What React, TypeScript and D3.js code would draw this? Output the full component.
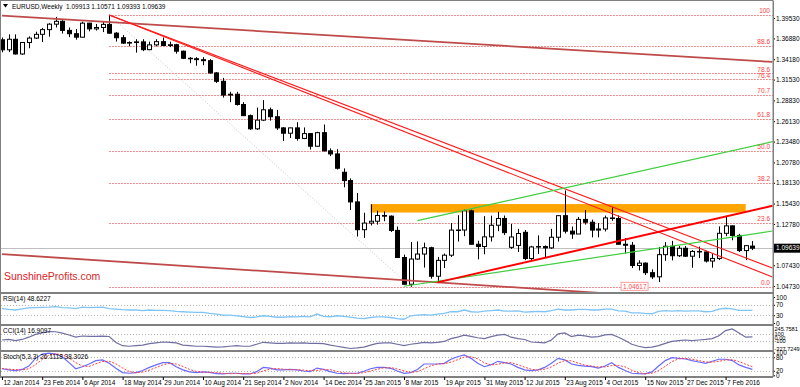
import React, {useRef, useEffect} from "react";
import * as d3 from "d3";

// weekly EURUSD bars, 12 Jan 2014 .. 6 Mar 2016
const opens = [1.3670, 1.3540, 1.3677, 1.3486, 1.3635, 1.3692, 1.3741, 1.3802, 1.3873, 1.3910,
	1.3792, 1.3749, 1.3704, 1.3886, 1.3812, 1.3830, 1.3870, 1.3756, 1.3697, 1.3627,
	1.3634, 1.3643, 1.3542, 1.3604, 1.3646, 1.3596, 1.3606, 1.3522, 1.3430, 1.3424,
	1.3412, 1.3399, 1.3240, 1.3131, 1.2952, 1.2963, 1.2830, 1.2685, 1.2514, 1.2627,
	1.2761, 1.2671, 1.2526, 1.2457, 1.2526, 1.2389, 1.2452, 1.2288, 1.2464, 1.2228,
	1.2188, 1.1950, 1.1842, 1.1565, 1.1204, 1.1290, 1.1314, 1.1389, 1.1380, 1.1195,
	1.0843, 1.0496, 1.0823, 1.0888, 1.0970, 1.0600, 1.0806, 1.0873, 1.1199, 1.1200,
	1.1449, 1.1015, 1.0986, 1.1111, 1.1262, 1.1350, 1.0975, 1.1000, 1.1170, 1.0830,
	1.0980, 1.0985, 1.0968, 1.1106, 1.1386, 1.1185, 1.1148, 1.1338, 1.1301, 1.1199,
	1.1213, 1.1357, 1.1349, 1.1015, 1.1002, 1.0739, 1.0770, 1.0646, 1.0592, 1.0880,
	1.0989, 1.0866, 1.0963, 1.0860, 1.0922, 1.0915, 1.0797, 1.0831, 1.1157, 1.1254,
	1.1130, 1.0933, 1.09913];
const highs = [1.3700, 1.3740, 1.3740, 1.3640, 1.3715, 1.3775, 1.3825, 1.3885, 1.3967, 1.3925,
	1.3830, 1.3810, 1.3905, 1.3890, 1.3875, 1.3905, 1.3993, 1.3770, 1.3733, 1.3650,
	1.3677, 1.3677, 1.3647, 1.3677, 1.3700, 1.3646, 1.3618, 1.3530, 1.3445, 1.3445,
	1.3445, 1.3418, 1.3250, 1.3175, 1.2995, 1.2995, 1.2860, 1.2700, 1.2790, 1.2887,
	1.2790, 1.2760, 1.2535, 1.2530, 1.2600, 1.2532, 1.2455, 1.2475, 1.2570, 1.2260,
	1.2250, 1.2000, 1.1870, 1.1680, 1.1424, 1.1534, 1.1450, 1.1442, 1.1390, 1.1245,
	1.0880, 1.1043, 1.1052, 1.1036, 1.0983, 1.0850, 1.0895, 1.1290, 1.1392, 1.1467,
	1.1465, 1.1060, 1.1380, 1.1386, 1.1436, 1.1388, 1.1278, 1.1215, 1.1200, 1.0995,
	1.1130, 1.1000, 1.1215, 1.1392, 1.1714, 1.1245, 1.1370, 1.1460, 1.1335, 1.1290,
	1.1387, 1.1495, 1.1390, 1.1095, 1.1045, 1.0807, 1.0780, 1.0690, 1.0981, 1.1043,
	1.1059, 1.0994, 1.0993, 1.0940, 1.0984, 1.0930, 1.0898, 1.1247, 1.1376, 1.1260,
	1.1150, 1.1000, 1.10571];
const lows = [1.3508, 1.3510, 1.3478, 1.3475, 1.3560, 1.3680, 1.3640, 1.3710, 1.3830, 1.3750,
	1.3705, 1.3672, 1.3700, 1.3780, 1.3790, 1.3770, 1.3750, 1.3647, 1.3615, 1.3585,
	1.3503, 1.3523, 1.3535, 1.3585, 1.3595, 1.3575, 1.3490, 1.3420, 1.3366, 1.3333,
	1.3340, 1.3230, 1.3110, 1.2920, 1.2860, 1.2815, 1.2680, 1.2500, 1.2500, 1.2615,
	1.2620, 1.2500, 1.2357, 1.2395, 1.2360, 1.2380, 1.2245, 1.2280, 1.2220, 1.2160,
	1.1985, 1.1755, 1.1460, 1.1115, 1.1098, 1.1260, 1.1270, 1.1315, 1.1175, 1.0840,
	1.0493, 1.0462, 1.0814, 1.0712, 1.0568, 1.0520, 1.0705, 1.0850, 1.1050, 1.1120,
	1.1013, 1.0819, 1.0885, 1.1050, 1.1185, 1.1135, 1.0955, 1.0915, 1.0809, 1.0810,
	1.0890, 1.0845, 1.0955, 1.1050, 1.1155, 1.1085, 1.1150, 1.1270, 1.1105, 1.1105,
	1.1182, 1.1320, 1.1012, 1.0895, 1.0706, 1.0675, 1.0615, 1.0565, 1.0524, 1.0800,
	1.0805, 1.0850, 1.0850, 1.0710, 1.0835, 1.0778, 1.0711, 1.0810, 1.1120, 1.1067,
	1.0915, 1.0810, 1.09393];
const closes = [1.3540, 1.3677, 1.3486, 1.3635, 1.3692, 1.3741, 1.3802, 1.3873, 1.3910, 1.3792,
	1.3749, 1.3704, 1.3886, 1.3812, 1.3830, 1.3870, 1.3756, 1.3697, 1.3627, 1.3634,
	1.3643, 1.3542, 1.3604, 1.3646, 1.3596, 1.3606, 1.3522, 1.3430, 1.3424, 1.3412,
	1.3399, 1.3240, 1.3131, 1.2952, 1.2963, 1.2830, 1.2685, 1.2514, 1.2627, 1.2761,
	1.2671, 1.2526, 1.2457, 1.2526, 1.2389, 1.2452, 1.2288, 1.2464, 1.2228, 1.2188,
	1.2002, 1.1842, 1.1565, 1.1204, 1.1290, 1.1314, 1.1389, 1.1380, 1.1195, 1.0843,
	1.0496, 1.0823, 1.0888, 1.0970, 1.0600, 1.0806, 1.0873, 1.1199, 1.1200, 1.1449,
	1.1015, 1.0986, 1.1111, 1.1262, 1.1350, 1.1166, 1.1109, 1.1155, 1.0830, 1.0980,
	1.0985, 1.0968, 1.1106, 1.1386, 1.1185, 1.1148, 1.1338, 1.1301, 1.1199, 1.1213,
	1.1357, 1.1349, 1.1015, 1.1002, 1.0739, 1.0770, 1.0646, 1.0592, 1.0880, 1.0989,
	1.0866, 1.0963, 1.0860, 1.0922, 1.0915, 1.0797, 1.0831, 1.1157, 1.1254, 1.1130,
	1.0933, 1.0997, 1.09639];

const rsiValues = [55.6, 52.2, 50, 54.4, 57.8, 58.9, 60, 61.1, 63.3, 58.9,
	57.8, 55.6, 61.1, 58.9, 60, 61.1, 55.6, 53.3, 51.1, 50,
	50, 47.8, 50, 48.9, 48.9, 47.8, 44.4, 43.3, 42.2, 41.1,
	41.1, 36.7, 34.4, 30, 30, 27.8, 24.4, 21.1, 23.3, 27.8,
	25.6, 22.2, 22.2, 24.4, 23.3, 25.6, 23.3, 34.4, 25.6, 23.3,
	27.8, 25.6, 22.2, 18.9, 16.7, 21.1, 23.3, 23.3, 21.1, 16.7,
	14.4, 27.8, 30, 32.2, 30, 34.4, 36.7, 43.3, 43.3, 50,
	43.3, 42.2, 45.6, 47.8, 50, 45.6, 45.6, 46.7, 42.2, 43.3,
	44.4, 43.3, 47.8, 53.3, 50, 50, 52.2, 52.2, 50, 50,
	53.3, 53.3, 46.7, 45.6, 38.9, 38.9, 36.7, 35.6, 44.4, 47.8,
	45.6, 47.8, 45.6, 46.7, 46.7, 43.3, 44.4, 53.3, 56.7, 54.4,
	48.9, 48.9, 48.62];
const cciValues = [-78, -62, -95, -62, 5, 88, 130, 171, 165, 125,
	70, 10, 40, 30, 30, 35, 25, -150, -245, -261,
	-245, -228, -186, -161, -137, -145, -161, -228, -245, -261,
	-261, -270, -286, -278, -261, -245, -261, -261, -203, -145,
	-161, -178, -178, -161, -170, -161, -178, -178, -186, -228,
	-261, -294, -327.72, -311, -286, -228, -178, -161, -161, -203,
	-245, -203, -178, -145, -161, -145, -120, -37, 5, 63,
	30, -12, -37, 21, 63, 88, 5, -37, -62, -137,
	-145, -161, -78, 105, 130, 21, 63, 46, 5, 21,
	71, 88, 5, -95, -203, -261, -300, -286, -245, -178,
	-120, -95, -78, -95, -78, -62, -37, 46, 200, 245.76,
	130, 5, 16.91];
const stochMain = [29, 24, 21, 26, 41, 75, 94, 98, 94, 82,
	56, 29, 38, 50, 65, 68, 53, 31, 12, 9,
	12, 21, 35, 46, 56, 56, 38, 24, 15, 12,
	15, 13, 7, 6, 9, 9, 6, 6, 16, 35,
	32, 24, 24, 26, 24, 19, 16, 32, 26, 16,
	9, 7, 9, 9, 18, 29, 35, 35, 31, 19,
	9, 12, 26, 50, 50, 50, 53, 71, 82, 90,
	75, 53, 38, 47, 62, 56, 50, 35, 24, 21,
	24, 35, 53, 75, 68, 50, 44, 41, 38, 32,
	41, 56, 35, 21, 9, 7, 6, 15, 41, 65,
	78, 75, 72, 65, 59, 53, 62, 71, 71, 65,
	46, 35, 26.11];
const stochSignal = [30, 27, 25, 24, 29, 47, 70, 89, 95, 91,
	77, 56, 41, 39, 51, 61, 62, 51, 32, 17,
	11, 14, 23, 34, 46, 53, 50, 39, 26, 17,
	14, 13, 12, 9, 7, 8, 8, 7, 9, 19,
	28, 30, 27, 25, 25, 23, 20, 22, 25, 25,
	17, 11, 8, 8, 12, 19, 27, 33, 34, 28,
	20, 13, 16, 29, 42, 50, 51, 58, 69, 81,
	82, 73, 55, 46, 49, 55, 56, 47, 36, 27,
	23, 27, 37, 54, 65, 64, 54, 45, 41, 37,
	37, 43, 44, 37, 22, 12, 7, 9, 21, 40,
	61, 73, 75, 71, 65, 59, 58, 62, 68, 69,
	61, 49, 38.30];

const dateLabels = ["12 Jan 2014", "23 Feb 2014", "6 Apr 2014", "18 May 2014", "29 Jun 2014",
	"10 Aug 2014", "21 Sep 2014", "2 Nov 2014", "14 Dec 2014", "25 Jan 2015", "8 Mar 2015",
	"19 Apr 2015", "31 May 2015", "12 Jul 2015", "23 Aug 2015", "4 Oct 2015", "15 Nov 2015",
	"27 Dec 2015", "7 Feb 2016"];
const priceTicks = [1.3953, 1.3688, 1.3418, 1.3153, 1.2883, 1.2613, 1.2348, 1.2078,
	1.1813, 1.1543, 1.1278, 1.0743, 1.0473];
const rsiTicks = [0, 30, 70, 100];
const cciTicks = [-327.7249, -100, 0, 100, 245.7581];
const cciTickLabels = ["-327.7249", "-100", "0.00", "100", "245.7581"];
const stochTicks = [0, 20, 80, 100];

const fibLevels = [100, 88.6, 78.6, 76.4, 70.7, 61.8, 50.0, 38.2, 23.6, 0.0];
const fibHigh = [16, 1.3993];
const fibLow = [61, 1.0462];
const lowLabel = "1.04617";
const lastPrice = 1.09639;
const zoneBars = [55, 111];
const zonePrices = [1.1537, 1.1427];

// trend lines as [bar, price] pairs
const longTopLine = [[0, 1.3983], [115, 1.3382]];
const longBottomLine = [[0, 1.0888], [95.2, 1.0349]];
const downLineA = [[16, 1.3993], [115, 1.0706]];
const downLineB = [[16, 1.3993], [115, 1.0589]];
const upRedLine = [[65, 1.0520], [115, 1.1514]];
const upGreenLow = [[60, 1.0470], [115, 1.1187]];
const upGreenHigh = [[62, 1.1321], [115, 1.2347]];

const font = "'Liberation Sans', Arial, sans-serif";

export default function App() {

	const ref = useRef(null);

	let layout = {"width": 800, "height": 387, "left": 1, "right": 773,
				  "mainTop": 1, "mainBottom": 293,
				  "rsiTop": 294, "rsiBottom": 325,
				  "cciTop": 326, "cciBottom": 351,
				  "stTop": 352, "stBottom": 377};

	useEffect(() => {

		let svg = d3.select(ref.current);
		svg.selectAll("*").remove();

		let x = d3.scaleLinear().domain([0, 112]).range([2, 752.4]);
		let y = d3.scaleLinear().domain([1.0473, 1.3953]).range([286, 18]);
		let yRsi = d3.scaleLinear().domain([0, 100]).range([323, 297]);
		let yCci = d3.scaleLinear().domain([-327.7249, 245.7581]).range([348.5, 329]);
		let ySt = d3.scaleLinear().domain([0, 100]).range([375.3, 352.7]);

		svg.append("rect").attr("width", layout.width).attr("height", layout.height).attr("fill", "#fff");

		let defs = svg.append("defs");
		defs.append("clipPath").attr("id", "mainClip")
			.append("rect")
			.attr("x", layout.left).attr("y", layout.mainTop)
			.attr("width", layout.right - layout.left)
			.attr("height", layout.mainBottom - layout.mainTop);

		let main = svg.append("g").attr("clip-path", "url(#mainClip)");

		// fibonacci retracement
		let fibPrice = (lv) => fibLow[1] + (fibHigh[1] - fibLow[1]) * lv / 100;

		main.selectAll(".fib")
			.data(fibLevels)
			.join("line")
			.attr("class", "fib")
			.attr("x1", x(fibHigh[0]))
			.attr("x2", layout.right)
			.attr("y1", d => Math.round(y(fibPrice(d))) + 0.5)
			.attr("y2", d => Math.round(y(fibPrice(d))) + 0.5)
			.attr("stroke", "#f36b6b")
			.attr("stroke-dasharray", "1.5,1.5");

		main.selectAll(".fibLabel")
			.data(fibLevels)
			.join("text")
			.attr("class", "fibLabel")
			.attr("x", 770)
			.attr("y", d => y(fibPrice(d)) - 1.5)
			.attr("text-anchor", "end")
			.attr("font-family", font)
			.attr("font-size", 6.5)
			.attr("fill", "#ff3c3c")
			.text(d => d === 100 ? "100" : d.toFixed(1));

		main.append("line")
			.attr("x1", x(fibHigh[0])).attr("y1", y(fibHigh[1]))
			.attr("x2", x(fibLow[0])).attr("y2", y(fibLow[1]))
			.attr("stroke", "#c4c4c4")
			.attr("stroke-dasharray", "1,2");

		// resistance zone
		main.append("rect")
			.attr("x", x(zoneBars[0]))
			.attr("y", y(zonePrices[0]))
			.attr("width", x(zoneBars[1]) - x(zoneBars[0]))
			.attr("height", y(zonePrices[1]) - y(zonePrices[0]))
			.attr("fill", "#ffa500");

		// last price line
		main.append("line")
			.attr("x1", layout.left).attr("x2", layout.right)
			.attr("y1", Math.round(y(lastPrice)) + 0.5).attr("y2", Math.round(y(lastPrice)) + 0.5)
			.attr("stroke", "#c0c0c0");

		// candles
		let bars = closes.map((c, i) => ({"i": i, "o": opens[i], "h": highs[i], "l": lows[i], "c": c}));

		main.selectAll(".wick")
			.data(bars)
			.join("line")
			.attr("class", "wick")
			.attr("x1", d => Math.round(x(d.i)) + 0.5)
			.attr("x2", d => Math.round(x(d.i)) + 0.5)
			.attr("y1", d => y(d.h))
			.attr("y2", d => y(d.l))
			.attr("stroke", "#000");

		main.selectAll(".body")
			.data(bars)
			.join("rect")
			.attr("class", "body")
			.attr("x", d => Math.round(x(d.i)) - 1.5)
			.attr("y", d => y(Math.max(d.o, d.c)))
			.attr("width", 4)
			.attr("height", d => Math.max(0.5, Math.abs(y(d.o) - y(d.c))))
			.attr("fill", d => d.c >= d.o ? "#fff" : "#000")
			.attr("stroke", "#000")
			.attr("stroke-width", 1);

		// trend lines
		let trend = d3.line().x(d => x(d[0])).y(d => y(d[1]));

		let drawLine = (pts, color, w) => main.append("path")
			.attr("d", trend(pts))
			.attr("fill", "none")
			.attr("stroke", color)
			.attr("stroke-width", w);

		drawLine(longTopLine, "#bf4a4a", 1.8);
		drawLine(longBottomLine, "#bf4a4a", 1.8);
		drawLine(downLineA, "#ff1a1a", 1.1);
		drawLine(downLineB, "#ff1a1a", 1.1);
		drawLine(upGreenLow, "#3fcf3f", 1.2);
		drawLine(upGreenHigh, "#3fcf3f", 1.2);
		drawLine(upRedLine, "#ff0000", 2);

		// low price label
		let lowG = main.append("g")
			.attr("transform", `translate(${x(92.4)}, ${y(fibLow[1])})`);
		lowG.append("rect")
			.attr("x", 0).attr("y", -4.5).attr("width", 27).attr("height", 8)
			.attr("fill", "#fff").attr("stroke", "#ff9a9a");
		lowG.append("text")
			.attr("x", 2).attr("y", 0)
			.attr("dy", "0.35em")
			.attr("font-family", font).attr("font-size", 6.5)
			.attr("fill", "#ff4a4a")
			.text(lowLabel);

		// watermark
		let wm = svg.append("text")
			.attr("x", 4).attr("y", 280)
			.attr("font-family", font)
			.attr("font-size", 10.5);
		wm.append("tspan").attr("fill", "#e3141c").text("Sunshine");
		wm.append("tspan").attr("fill", "#d22a2a").text("Profits.com");

		// header
		svg.append("path").attr("d", "M3,4 L8,4 L5.5,7.5 Z").attr("fill", "#000");
		svg.append("text")
			.attr("x", 12).attr("y", 8.5)
			.attr("font-family", font).attr("font-size", 6.5)
			.attr("fill", "#000")
			.attr("xml:space", "preserve")
			.text("EURUSD,Weekly  1.09913 1.10571 1.09393 1.09639");

		// indicator panels
		let rsiG = svg.append("g");
		rsiG.selectAll(".lvl").data([30, 70]).join("line")
			.attr("x1", layout.left).attr("x2", layout.right)
			.attr("y1", d => Math.round(yRsi(d)) + 0.5).attr("y2", d => Math.round(yRsi(d)) + 0.5)
			.attr("stroke", "#b4b4b4").attr("stroke-dasharray", "1,2");
		rsiG.append("path")
			.attr("d", d3.line().x((d, i) => x(i)).y(d => yRsi(d))(rsiValues))
			.attr("fill", "none").attr("stroke", "#7fc4f5").attr("stroke-width", 1.3);

		let cciG = svg.append("g");
		cciG.selectAll(".lvl").data([-100, 100]).join("line")
			.attr("x1", layout.left).attr("x2", layout.right)
			.attr("y1", d => Math.round(yCci(d)) + 0.5).attr("y2", d => Math.round(yCci(d)) + 0.5)
			.attr("stroke", "#b4b4b4").attr("stroke-dasharray", "1,2");
		cciG.append("path")
			.attr("d", d3.line().x((d, i) => x(i)).y(d => yCci(d))(cciValues))
			.attr("fill", "none").attr("stroke", "#6f6fa3").attr("stroke-width", 1.2);

		let stG = svg.append("g");
		stG.selectAll(".lvl").data([20, 80]).join("line")
			.attr("x1", layout.left).attr("x2", layout.right)
			.attr("y1", d => Math.round(ySt(d)) + 0.5).attr("y2", d => Math.round(ySt(d)) + 0.5)
			.attr("stroke", "#b4b4b4").attr("stroke-dasharray", "1,2");
		stG.append("path")
			.attr("d", d3.line().x((d, i) => x(i)).y(d => ySt(d))(stochMain))
			.attr("fill", "none").attr("stroke", "#6a6aff").attr("stroke-width", 1.2);
		stG.append("path")
			.attr("d", d3.line().x((d, i) => x(i)).y(d => ySt(d))(stochSignal))
			.attr("fill", "none").attr("stroke", "#ff4040").attr("stroke-width", 1)
			.attr("stroke-dasharray", "2,1.5");

		let panelLabels = [["RSI(14) 48.6227", layout.rsiTop + 6.5],
						   ["CCI(14) 16.9097", layout.cciTop + 6.5],
						   ["Stoch(5,3,3) 26.1118 38.3026", layout.stTop + 6.5]];
		svg.selectAll(".plabel").data(panelLabels).join("text")
			.attr("class", "plabel")
			.attr("x", 3).attr("y", d => d[1])
			.attr("font-family", font).attr("font-size", 6.5)
			.attr("fill", "#000")
			.text(d => d[0]);

		// frame and separators
		svg.append("rect")
			.attr("x", layout.left - 0.5).attr("y", layout.mainTop - 0.5)
			.attr("width", layout.right - layout.left + 0.5)
			.attr("height", layout.stBottom - layout.mainTop)
			.attr("fill", "none").attr("stroke", "#808080");
		svg.selectAll(".sep").data([layout.mainBottom, layout.rsiBottom, layout.cciBottom, layout.stBottom])
			.join("line")
			.attr("class", "sep")
			.attr("x1", 0).attr("x2", layout.right)
			.attr("y1", d => d).attr("y2", d => d)
			.attr("stroke", "#808080").attr("stroke-width", 2);

		// axes
		let styleAxis = (size) => (g) => {
			g.select(".domain").remove();
			g.selectAll("text").attr("font-family", font).attr("font-size", size).attr("fill", "#000");
			g.selectAll("line").attr("stroke", "#000");
		};

		svg.append("g")
			.attr("transform", `translate(${layout.right}, 0)`)
			.call(d3.axisRight(y).tickValues(priceTicks).tickFormat(d3.format(".5f")).tickSize(2).tickPadding(1))
			.call(styleAxis(6.5));

		svg.append("g")
			.attr("transform", `translate(${layout.right}, 0)`)
			.call(d3.axisRight(yRsi).tickValues(rsiTicks).tickSize(2).tickPadding(1))
			.call(styleAxis(6.5));

		svg.append("g")
			.attr("transform", `translate(${layout.right}, 0)`)
			.call(d3.axisRight(yCci).tickValues(cciTicks).tickFormat((d, i) => cciTickLabels[i]).tickSize(1).tickPadding(0.5))
			.call(styleAxis(5.6));

		svg.append("g")
			.attr("transform", `translate(${layout.right}, 0)`)
			.call(d3.axisRight(ySt).tickValues(stochTicks).tickSize(2).tickPadding(1))
			.call(styleAxis(6.5));

		// right axis line
		svg.append("line")
			.attr("x1", layout.right + 0.5).attr("x2", layout.right + 0.5)
			.attr("y1", layout.mainTop).attr("y2", layout.stBottom)
			.attr("stroke", "#808080");

		// current price tag
		let tag = svg.append("g").attr("transform", `translate(${layout.right + 1}, ${y(lastPrice)})`);
		tag.append("rect").attr("x", 0).attr("y", -4.5).attr("width", 27).attr("height", 9).attr("fill", "#000");
		tag.append("text")
			.attr("x", 2).attr("dy", "0.35em")
			.attr("font-family", font).attr("font-size", 6.5).attr("fill", "#fff")
			.text(d3.format(".5f")(lastPrice));

		// date axis
		svg.append("g")
			.attr("transform", `translate(0, ${layout.stBottom})`)
			.call(d3.axisBottom(x).tickValues(d3.range(0, 109, 6)).tickFormat((d, i) => dateLabels[i]).tickSize(3).tickPadding(0))
			.call(styleAxis(6.5))
			.call(g => g.selectAll("text").attr("text-anchor", "start").attr("dx", 1));

	}, []);

	return (
		<div style={{position: "absolute", left: 0, top: 0}}>
			<svg ref={ref} width={800} height={387} />
		</div>
	);
}
